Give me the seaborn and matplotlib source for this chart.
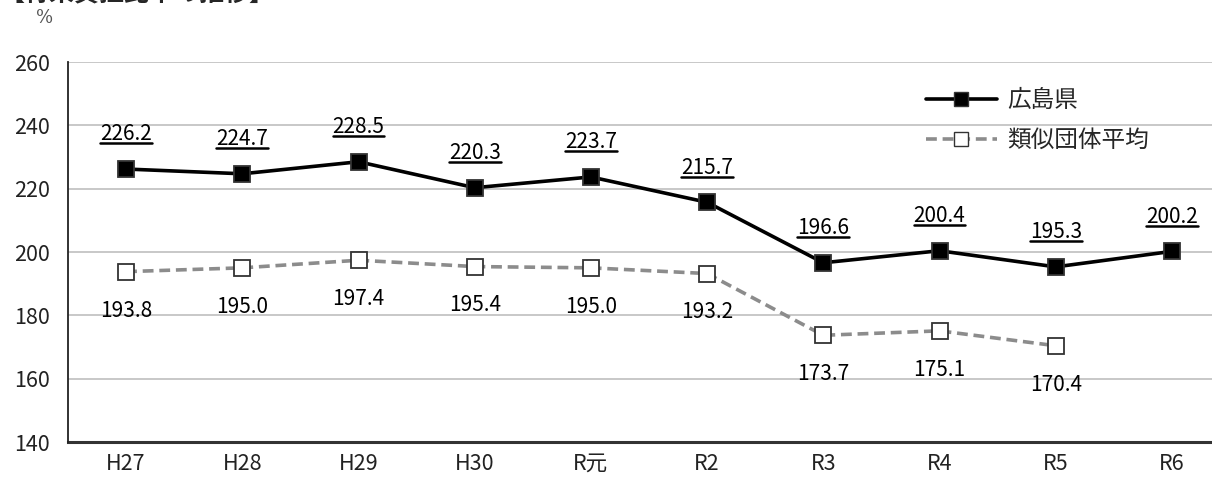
import pandas as pd
import seaborn as sns
import matplotlib.pyplot as plt
from matplotlib.lines import Line2D

years = ['H27', 'H28', 'H29', 'H30', 'R元', 'R2', 'R3', 'R4', 'R5', 'R6']
hiroshima = [226.2, 224.7, 228.5, 220.3, 223.7, 215.7, 196.6, 200.4, 195.3, 200.2]
ruiji = [193.8, 195.0, 197.4, 195.4, 195.0, 193.2, 173.7, 175.1, 170.4, None]
series_names = ['広島県', '類似団体平均']

sns.set_style('white')
plt.rcParams['font.family'] = ['Noto Sans CJK JP', 'DejaVu Sans']

rows = []
for i, y in enumerate(years):
    rows.append({'year': i, 'series': series_names[0], 'value': hiroshima[i]})
    if ruiji[i] is not None:
        rows.append({'year': i, 'series': series_names[1], 'value': ruiji[i]})
df = pd.DataFrame(rows)

fig = plt.figure(figsize=(12.12, 4.79), dpi=100)
ax = fig.add_axes([68 / 1212, 1 - 442 / 479, (1230 - 68) / 1212, (442 - 62) / 479])

sns.lineplot(data=df, x='year', y='value', hue='series', style='series',
             palette={series_names[0]: 'black', series_names[1]: '#8c8c8c'},
             dashes={series_names[0]: '', series_names[1]: (3, 1.6)},
             markers={series_names[0]: 's', series_names[1]: 's'},
             markersize=11, linewidth=2.6, ax=ax, legend=False)

# marker styling
lines = ax.get_lines()
lines[0].set_markerfacecolor('black')
lines[0].set_markeredgecolor('#333333')
lines[1].set_markerfacecolor('white')
lines[1].set_markeredgecolor('#333333')
lines[1].set_markeredgewidth(1.3)
lines[0].set_markeredgewidth(1.3)

ax.set_xlim(-0.5, 9.5)
ax.set_ylim(140, 260)
ax.set_yticks(range(140, 261, 20))
ax.set_xticks(range(len(years)))
ax.set_xticklabels(years)
ax.tick_params(axis='both', length=0, labelsize=15.5, colors='#222222')
ax.tick_params(axis='x', pad=8)
ax.tick_params(axis='y', pad=13)
ax.set_xlabel(None)
ax.set_ylabel(None)
ax.yaxis.grid(True, color='#c8c8c8', linewidth=1.4)
for s in ['top', 'right']:
    ax.spines[s].set_visible(False)
ax.spines['left'].set_color('#222222')
ax.spines['left'].set_linewidth(1.3)
ax.spines['bottom'].set_color('#333333')
ax.spines['bottom'].set_linewidth(2.2)
ax.spines['left'].set_zorder(3)

# data labels
texts = []
for i, v in enumerate(hiroshima):
    t = ax.annotate(f'{v:.1f}', (i, v), xytext=(0, 25), textcoords='offset points',
                    ha='center', va='center', fontsize=15, color='black')
    texts.append(t)
for i, v in enumerate(ruiji):
    if v is None:
        continue
    ax.annotate(f'{v:.1f}', (i, v), xytext=(0, -28), textcoords='offset points',
                ha='center', va='center', fontsize=15, color='black')

# underline the 広島県 labels
fig.canvas.draw()
r = fig.canvas.get_renderer()
inv = fig.transFigure.inverted()
for t in texts:
    bb = t.get_window_extent(r)
    x0, y0 = inv.transform((bb.x0, bb.y0 + 2))
    x1, _ = inv.transform((bb.x1, bb.y0 + 2))
    fig.add_artist(plt.Line2D([x0, x1], [y0, y0], color='black', linewidth=1.8))

# legend
handles = [
    Line2D([], [], color='black', linewidth=2.6, marker='s', markersize=10,
           markerfacecolor='black', markeredgecolor='#333333'),
    Line2D([], [], color='#8c8c8c', linewidth=2.6, linestyle=(0, (3, 1.6)), marker='s',
           markersize=10, markerfacecolor='white', markeredgecolor='#333333'),
]
ax.legend(handles, series_names, loc='upper left', bbox_to_anchor=(0.72, 0.985),
          frameon=False, handlelength=3.0, handletextpad=0.45, labelspacing=0.72,
          fontsize=17)

fig.text(45 / 1212, 1 - 18 / 479, '%', fontsize=13, color='#555555',
         ha='center', va='center', family=['DejaVu Serif'])
fig.text(0.0, 1.012, '【将来負担比率の推移】', fontsize=18, fontweight='bold',
         ha='left', va='center')

fig.savefig('out.png', dpi=100)
